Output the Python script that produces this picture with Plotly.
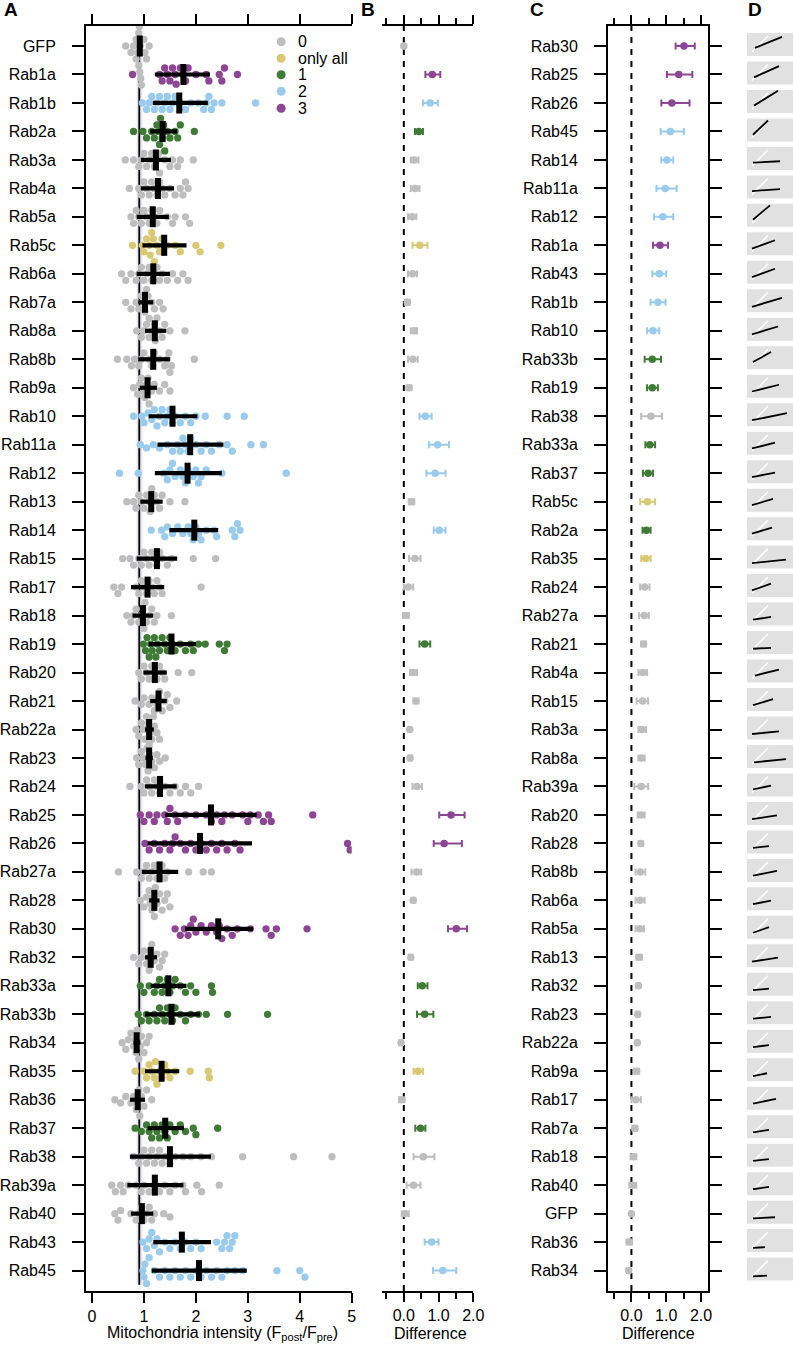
import numpy as np
import plotly.graph_objects as go

# ---------------- data ----------------
names = ["GFP", "Rab1a", "Rab1b", "Rab2a", "Rab3a", "Rab4a", "Rab5a", "Rab5c", "Rab6a", "Rab7a",
         "Rab8a", "Rab8b", "Rab9a", "Rab10", "Rab11a", "Rab12", "Rab13", "Rab14", "Rab15", "Rab17",
         "Rab18", "Rab19", "Rab20", "Rab21", "Rab22a", "Rab23", "Rab24", "Rab25", "Rab26", "Rab27a",
         "Rab28", "Rab30", "Rab32", "Rab33a", "Rab33b", "Rab34", "Rab35", "Rab36", "Rab37", "Rab38",
         "Rab39a", "Rab40", "Rab43", "Rab45"]
groups = ["0", "3", "2", "1", "0", "0", "0", "only all", "0", "0",
          "0", "0", "0", "2", "2", "2", "0", "2", "0", "0",
          "0", "1", "0", "0", "0", "0", "0", "3", "3", "0",
          "0", "3", "0", "1", "1", "0", "only all", "0", "1", "0",
          "0", "0", "2", "2"]
means = [0.92, 1.76, 1.68, 1.36, 1.23, 1.27, 1.17, 1.39, 1.18, 1.02,
         1.21, 1.18, 1.07, 1.55, 1.89, 1.84, 1.14, 1.97, 1.25, 1.07,
         0.98, 1.53, 1.21, 1.28, 1.10, 1.10, 1.31, 2.29, 2.08, 1.30,
         1.20, 2.43, 1.13, 1.47, 1.53, 0.86, 1.34, 0.88, 1.41, 1.50,
         1.21, 0.96, 1.73, 2.06]
sd_low = [0.87, 1.21, 1.17, 1.12, 0.94, 0.94, 0.86, 0.97, 0.86, 0.89,
          1.02, 0.89, 0.92, 1.09, 1.26, 1.21, 0.93, 1.49, 0.86, 0.75,
          0.78, 1.09, 0.99, 1.12, 1.02, 1.03, 1.02, 1.41, 1.07, 0.96,
          1.10, 1.79, 1.02, 1.13, 1.02, 0.80, 1.02, 0.73, 1.07, 0.73,
          0.68, 0.75, 1.18, 1.15]
sd_high = [0.97, 2.27, 2.23, 1.64, 1.52, 1.58, 1.48, 1.82, 1.50, 1.18,
           1.43, 1.50, 1.25, 2.03, 2.53, 2.50, 1.36, 2.43, 1.64, 1.39,
           1.18, 2.00, 1.44, 1.44, 1.19, 1.17, 1.63, 3.17, 3.08, 1.66,
           1.30, 3.10, 1.25, 1.82, 2.08, 0.93, 1.68, 1.02, 1.77, 2.29,
           1.76, 1.18, 2.29, 2.98]
cell_values = [
    [0.65, 0.75, 0.8, 0.85, 0.85, 0.88, 0.9, 0.9, 0.91, 0.92, 0.92, 0.93, 0.94, 0.95, 0.95, 0.97, 1.0, 1.02, 1.05, 1.1],
    [0.78, 1.3, 1.35, 1.4, 1.45, 1.5, 1.55, 1.6, 1.62, 1.7, 1.75, 1.8, 1.85, 2.0, 2.2, 2.25, 2.45, 2.5, 2.55, 2.8],
    [0.97, 1.05, 1.1, 1.15, 1.2, 1.25, 1.3, 1.35, 1.4, 1.45, 1.5, 1.55, 1.6, 1.7, 1.8, 1.9, 2.05, 2.15, 2.2, 2.25, 2.3, 2.35, 2.5, 3.15],
    [0.8, 0.98, 1.05, 1.15, 1.2, 1.25, 1.28, 1.3, 1.32, 1.35, 1.38, 1.4, 1.45, 1.5, 1.6, 1.65, 1.7, 1.97],
    [0.64, 0.8, 0.9, 0.95, 1.0, 1.05, 1.1, 1.15, 1.2, 1.25, 1.28, 1.3, 1.4, 1.5, 1.55, 1.65, 1.7, 1.95],
    [0.72, 0.9, 0.95, 1.0, 1.05, 1.1, 1.15, 1.2, 1.25, 1.3, 1.35, 1.4, 1.5, 1.6, 1.7, 1.75, 1.8, 1.85],
    [0.75, 0.8, 0.85, 0.9, 0.95, 1.0, 1.05, 1.1, 1.15, 1.2, 1.25, 1.3, 1.45, 1.55, 1.6, 1.8, 1.88],
    [0.78, 0.97, 1.0, 1.05, 1.1, 1.12, 1.15, 1.18, 1.2, 1.25, 1.3, 1.35, 1.45, 1.6, 1.7, 2.0, 2.08, 2.48],
    [0.57, 0.65, 0.75, 0.85, 0.9, 0.95, 1.0, 1.05, 1.1, 1.15, 1.2, 1.25, 1.3, 1.35, 1.45, 1.55, 1.65, 1.75, 1.85],
    [0.65, 0.75, 0.85, 0.9, 0.95, 1.0, 1.02, 1.05, 1.08, 1.1, 1.15, 1.2, 1.3, 1.37],
    [0.86, 0.95, 1.0, 1.05, 1.1, 1.15, 1.2, 1.22, 1.25, 1.3, 1.35, 1.4, 1.5, 1.79],
    [0.49, 0.67, 0.76, 0.82, 0.9, 0.95, 1.0, 1.1, 1.15, 1.2, 1.3, 1.4, 1.45, 1.48, 1.5, 1.53, 1.97],
    [0.8, 0.88, 0.92, 0.95, 1.0, 1.02, 1.05, 1.08, 1.1, 1.15, 1.2, 1.3, 1.4, 1.5],
    [0.8, 0.96, 1.0, 1.08, 1.15, 1.2, 1.25, 1.3, 1.35, 1.4, 1.45, 1.5, 1.55, 1.6, 1.7, 1.8, 1.9, 2.0, 2.18, 2.6, 2.93],
    [0.93, 1.05, 1.18, 1.3, 1.45, 1.55, 1.65, 1.7, 1.75, 1.8, 1.85, 1.9, 2.0, 2.1, 2.2, 2.3, 2.45, 2.6, 2.7, 3.06, 3.3],
    [0.53, 0.89, 1.38, 1.45, 1.5, 1.55, 1.6, 1.7, 1.75, 1.8, 1.85, 1.95, 2.0, 2.05, 2.1, 2.2, 2.5, 3.74],
    [0.67, 0.8, 0.85, 0.9, 0.95, 1.0, 1.05, 1.1, 1.12, 1.15, 1.2, 1.25, 1.3, 1.35, 1.5, 1.79],
    [1.14, 1.34, 1.4, 1.45, 1.55, 1.65, 1.75, 1.85, 1.9, 1.95, 2.0, 2.05, 2.1, 2.2, 2.35, 2.4, 2.7, 2.75, 2.8, 2.85],
    [0.59, 0.73, 0.8, 0.9, 0.95, 1.0, 1.05, 1.1, 1.15, 1.2, 1.25, 1.3, 1.35, 1.45, 1.53, 1.95, 2.38],
    [0.42, 0.5, 0.57, 0.85, 0.9, 0.95, 1.0, 1.05, 1.1, 1.15, 1.2, 1.25, 1.3, 1.35, 2.1],
    [0.67, 0.75, 0.8, 0.85, 0.9, 0.95, 0.98, 1.0, 1.02, 1.05, 1.1, 1.15, 1.2, 1.25, 1.53],
    [0.99, 1.03, 1.06, 1.1, 1.13, 1.16, 1.2, 1.23, 1.26, 1.3, 1.35, 1.4, 1.45, 1.5, 1.55, 1.6, 1.7, 1.8, 1.9, 1.95, 2.05, 2.18, 2.45, 2.55, 2.6],
    [0.9, 0.95, 1.0, 1.05, 1.1, 1.15, 1.2, 1.25, 1.3, 1.35, 1.4, 1.66, 1.92],
    [0.83, 0.95, 1.0, 1.1, 1.15, 1.2, 1.25, 1.28, 1.3, 1.35, 1.4, 1.45, 1.5, 1.63],
    [0.85, 0.9, 0.95, 1.0, 1.02, 1.05, 1.08, 1.1, 1.12, 1.15, 1.18, 1.2, 1.25, 1.3],
    [0.86, 0.9, 0.95, 1.0, 1.03, 1.06, 1.08, 1.1, 1.12, 1.15, 1.2, 1.25, 1.3, 1.41],
    [0.73, 0.95, 1.0, 1.05, 1.1, 1.15, 1.2, 1.25, 1.3, 1.4, 1.5, 1.6, 1.7, 1.8, 1.9, 2.05],
    [0.93, 1.0, 1.1, 1.2, 1.25, 1.4, 1.45, 1.5, 1.6, 1.65, 1.8, 2.0, 2.2, 2.3, 2.4, 2.5, 2.55, 2.7, 2.9, 3.0, 3.05, 3.2, 3.3, 3.4, 3.45, 4.25],
    [1.02, 1.1, 1.2, 1.3, 1.4, 1.5, 1.55, 1.6, 1.7, 1.8, 1.9, 2.0, 2.1, 2.2, 2.3, 2.4, 2.5, 2.6, 2.75, 2.85, 4.92, 4.97],
    [0.51, 0.86, 0.95, 1.0, 1.05, 1.1, 1.15, 1.2, 1.25, 1.3, 1.35, 1.4, 1.45, 1.86, 2.14, 2.3],
    [0.93, 1.0, 1.05, 1.1, 1.12, 1.15, 1.18, 1.2, 1.22, 1.25, 1.3, 1.35, 1.4, 1.45, 1.5],
    [1.6, 1.7, 1.78, 1.85, 1.9, 1.95, 2.0, 2.1, 2.2, 2.3, 2.4, 2.45, 2.5, 2.6, 2.7, 2.8, 3.05, 3.35, 3.45, 3.55, 4.14],
    [0.8, 0.9, 0.95, 1.0, 1.05, 1.08, 1.1, 1.13, 1.15, 1.2, 1.25, 1.3, 1.35, 1.4],
    [0.93, 1.0, 1.1, 1.2, 1.25, 1.3, 1.35, 1.4, 1.45, 1.5, 1.55, 1.6, 1.7, 1.8, 1.9, 2.0, 2.3, 2.32],
    [0.89, 0.95, 1.05, 1.1, 1.2, 1.25, 1.3, 1.35, 1.4, 1.45, 1.5, 1.55, 1.6, 1.7, 1.8, 1.9, 2.05, 2.2, 2.61, 3.38],
    [0.58, 0.65, 0.7, 0.75, 0.8, 0.83, 0.85, 0.87, 0.9, 0.93, 0.95, 1.0, 1.05, 1.1],
    [0.83, 1.0, 1.05, 1.1, 1.15, 1.2, 1.22, 1.25, 1.3, 1.35, 1.4, 1.45, 1.5, 1.6, 1.89, 2.24, 2.26],
    [0.44, 0.55, 0.65, 0.75, 0.8, 0.85, 0.88, 0.9, 0.92, 0.95, 1.0, 1.05, 1.15],
    [0.83, 0.95, 1.05, 1.1, 1.15, 1.2, 1.25, 1.3, 1.35, 1.4, 1.45, 1.5, 1.6, 1.7, 1.8, 1.95, 2.0, 2.42],
    [0.8, 0.9, 0.95, 1.0, 1.05, 1.1, 1.15, 1.2, 1.25, 1.3, 1.35, 1.4, 1.5, 1.6, 1.75, 1.9, 2.1, 2.3, 2.9, 3.88, 4.62],
    [0.38, 0.45, 0.55, 0.6, 0.7, 0.85, 0.95, 1.0, 1.1, 1.2, 1.3, 1.4, 1.5, 1.6, 1.75, 1.8, 2.02, 2.11, 2.45],
    [0.44, 0.5, 0.55, 0.75, 0.85, 0.9, 0.95, 1.0, 1.05, 1.1, 1.15, 1.2, 1.38, 1.5],
    [0.98, 1.05, 1.1, 1.15, 1.2, 1.25, 1.3, 1.4, 1.5, 1.6, 1.7, 1.8, 1.9, 2.0, 2.1, 2.4, 2.5, 2.55, 2.6, 2.65, 2.7, 2.75],
    [0.98, 1.0, 1.02, 1.05, 1.1, 1.2, 1.3, 1.4, 1.5, 1.6, 1.7, 1.8, 1.9, 2.0, 2.1, 2.2, 2.3, 2.4, 2.5, 2.6, 2.75, 2.9, 3.56, 4.0, 4.1],
]
gfp_ref = 0.91
gfp_band = [0.86, 0.97]

diff = [0.00, 0.82, 0.76, 0.43, 0.30, 0.33, 0.24, 0.46, 0.25, 0.10,
        0.29, 0.26, 0.15, 0.62, 0.97, 0.90, 0.22, 1.02, 0.32, 0.13,
        0.06, 0.60, 0.28, 0.35, 0.17, 0.18, 0.38, 1.36, 1.16, 0.37,
        0.27, 1.51, 0.20, 0.53, 0.60, -0.08, 0.41, -0.06, 0.48, 0.56,
        0.28, 0.04, 0.80, 1.12]
ci_low = [0.00, 0.62, 0.55, 0.32, 0.20, 0.20, 0.12, 0.25, 0.12, 0.03,
          0.20, 0.12, 0.08, 0.45, 0.72, 0.65, 0.14, 0.86, 0.15, 0.00,
          -0.02, 0.45, 0.18, 0.28, 0.13, 0.13, 0.25, 1.02, 0.86, 0.22,
          0.22, 1.27, 0.15, 0.40, 0.38, -0.13, 0.28, -0.14, 0.33, 0.28,
          0.08, -0.06, 0.60, 0.84]
ci_high = [0.00, 1.05, 0.98, 0.55, 0.42, 0.45, 0.36, 0.68, 0.38, 0.17,
           0.38, 0.40, 0.22, 0.80, 1.30, 1.20, 0.30, 1.20, 0.48, 0.27,
           0.14, 0.76, 0.38, 0.42, 0.21, 0.23, 0.52, 1.75, 1.67, 0.50,
           0.33, 1.82, 0.25, 0.68, 0.85, -0.03, 0.55, 0.02, 0.62, 0.88,
           0.48, 0.14, 1.00, 1.51]

c_order = ["Rab30", "Rab25", "Rab26", "Rab45", "Rab14", "Rab11a", "Rab12", "Rab1a", "Rab43", "Rab1b",
           "Rab10", "Rab33b", "Rab19", "Rab38", "Rab33a", "Rab37", "Rab5c", "Rab2a", "Rab35", "Rab24",
           "Rab27a", "Rab21", "Rab4a", "Rab15", "Rab3a", "Rab8a", "Rab39a", "Rab20", "Rab28", "Rab8b",
           "Rab6a", "Rab5a", "Rab13", "Rab32", "Rab23", "Rab22a", "Rab9a", "Rab17", "Rab7a", "Rab18",
           "Rab40", "GFP", "Rab36", "Rab34"]

# thumbnail regression fits (C order), in thumbnail units (pre on x, post on y)
fit_slope = [0.41, 0.45, 0.62, 0.95, 0.05, 0.07, 0.85, 0.36, 0.36, 0.30,
             0.30, 0.55, 0.25, 0.20, 0.25, 0.20, 0.30, 0.30, 0.10, 0.35,
             0.15, 0.05, 0.25, 0.30, 0.10, 0.10, 0.20, 0.15, 0.10, 0.20,
             0.20, 0.35, 0.15, 0.10, 0.10, 0.12, 0.20, 0.20, 0.15, 0.12,
             0.15, 0.05, 0.05, 0.05]
fit_icpt = [0.24, 0.20, 0.15, 0.05, 0.35, 0.35, 0.10, 0.25, 0.25, 0.20,
            0.25, 0.20, 0.25, 0.25, 0.25, 0.25, 0.25, 0.25, 0.25, 0.25,
            0.25, 0.25, 0.25, 0.20, 0.25, 0.25, 0.30, 0.25, 0.25, 0.25,
            0.25, 0.20, 0.25, 0.25, 0.25, 0.25, 0.20, 0.25, 0.25, 0.25,
            0.25, 0.25, 0.20, 0.20]
fit_xmin = [0.40, 0.35, 0.35, 0.30, 0.30, 0.25, 0.30, 0.25, 0.25, 0.25,
            0.25, 0.30, 0.25, 0.25, 0.25, 0.25, 0.25, 0.25, 0.25, 0.25,
            0.30, 0.30, 0.40, 0.30, 0.25, 0.35, 0.30, 0.25, 0.30, 0.30,
            0.30, 0.30, 0.25, 0.30, 0.30, 0.30, 0.30, 0.30, 0.30, 0.30,
            0.30, 0.30, 0.30, 0.30]
fit_xmax = [1.75, 1.60, 1.55, 1.05, 1.65, 1.65, 1.15, 1.40, 1.40, 1.75,
            1.55, 1.20, 1.60, 2.00, 1.40, 1.40, 1.30, 1.25, 1.95, 1.20,
            1.20, 1.20, 1.60, 1.30, 1.60, 1.95, 1.20, 1.50, 1.10, 1.50,
            1.20, 1.10, 1.55, 1.10, 1.20, 1.10, 1.00, 1.45, 1.10, 1.10,
            1.10, 1.40, 0.90, 1.00]

group_order = ["0", "only all", "1", "2", "3"]
group_color = {"0": "#BEBEBE", "only all": "#D9C975", "1": "#3F7B37",
               "2": "#9ACBEC", "3": "#8D4694"}

# ---------------- layout constants ----------------
W, H = 793, 1349
FONT = "Liberation Sans, Arial, Helvetica, sans-serif"
n = len(names)
top_px, bot_px = 26, 1291
row0_px, rowspace = 46.0, (1270.6 - 46.0) / 43
y_range = [(bot_px - row0_px) / rowspace, (top_px - row0_px) / rowspace]
y_dom = [1 - bot_px / H, 1 - top_px / H]

A_px = (86, 351.7); A_range = [(86 - 92) / 51.9, 5.0]
B_px = (382.3, 473.3); B_range = [-0.62, 2.0]
C_px = (608, 708); C_range = [-0.673, 2.2]
D_px = (747, 793); D_range = [0, 46 / 20.0]

def dom(p):
    return [p[0] / W, p[1] / W]

px_per_x = (A_px[1] - A_px[0]) / (A_range[1] - A_range[0])
px_per_xc = (C_px[1] - C_px[0]) / (C_range[1] - C_range[0])


def swarm(vals, diam=7.2):
    vals = np.asarray(vals, float)
    order = np.argsort(vals, kind="stable")
    placed = []
    offs = np.zeros(len(vals))
    step = diam * 0.45
    cands = [0.0]
    for k in range(1, 60):
        cands += [k * step, -k * step]
    for i in order:
        xp = vals[i] * px_per_x
        for c in cands:
            ok = True
            for (qx, qy) in placed:
                if (xp - qx) ** 2 + (c - qy) ** 2 < (diam * 0.88) ** 2:
                    ok = False
                    break
            if ok:
                break
        placed.append((xp, c))
        offs[i] = c / rowspace
    return offs


fig = go.Figure()

# --- panel A: individual cells, grouped by colour category
for g in group_order:
    xs, ys = [], []
    for i in range(n):
        if groups[i] != g:
            continue
        offs = swarm(cell_values[i])
        xs += list(cell_values[i])
        ys += list(i + offs)
    fig.add_trace(go.Scatter(x=xs, y=ys, mode="markers", xaxis="x", yaxis="y",
                             marker=dict(size=7.3, color=group_color[g], line=dict(width=0)),
                             showlegend=False, hoverinfo="skip"))

# mean +/- SD crosses
idx = list(range(n))
fig.add_trace(go.Scatter(
    x=means, y=idx, mode="markers", xaxis="x", yaxis="y",
    error_x=dict(type="data", symmetric=False,
                 array=[h - m for h, m in zip(sd_high, means)],
                 arrayminus=[m - l for m, l in zip(means, sd_low)],
                 color="black", thickness=4.2, width=0),
    marker=dict(symbol="line-ns", size=15, color="black", line=dict(width=6, color="black")),
    showlegend=False, hoverinfo="skip"))

# category dots next to the row labels (A and C)
dotA_x = A_range[0] - (86 - 66) / px_per_x
dotC_x = C_range[0] - (608 - 588) / px_per_xc
fig.add_trace(go.Scatter(x=[dotA_x] * n, y=idx, mode="markers", xaxis="x", yaxis="y",
                         marker=dict(size=11, color=[group_color[g] for g in groups]),
                         cliponaxis=False, showlegend=False, hoverinfo="skip"))
fig.add_trace(go.Scatter(x=[dotC_x] * n, y=idx, mode="markers", xaxis="x3", yaxis="y3",
                         marker=dict(size=11, color=[group_color[groups[names.index(nm)]] for nm in c_order]),
                         cliponaxis=False, showlegend=False, hoverinfo="skip"))

# legend (manual, compact)
leg_x = (281 - 92) / 51.9
leg_y_px = [41.7, 58.3, 74.8, 91.3, 108.2]
leg_y = [(p - row0_px) / rowspace for p in leg_y_px]
fig.add_trace(go.Scatter(x=[leg_x] * 5, y=leg_y, mode="markers", xaxis="x", yaxis="y",
                         marker=dict(size=9, color=[group_color[g] for g in group_order]),
                         showlegend=False, hoverinfo="skip", cliponaxis=False))
annotations = []
for g, yy in zip(group_order, leg_y):
    annotations.append(dict(x=(296 - 92) / 51.9, y=yy, xref="x", yref="y", text=g,
                            showarrow=False, xanchor="left", yanchor="middle",
                            font=dict(size=16, color="black", family=FONT)))

# --- panels B and C: differences
def add_diff(xax, yax, order_names):
    for g in group_order:
        xs, ys, ep, em = [], [], [], []
        for r, nm in enumerate(order_names):
            i = names.index(nm)
            if groups[i] != g:
                continue
            xs.append(diff[i]); ys.append(r)
            ep.append(ci_high[i] - diff[i]); em.append(diff[i] - ci_low[i])
        fig.add_trace(go.Scatter(
            x=xs, y=ys, mode="markers", xaxis=xax, yaxis=yax,
            error_x=dict(type="data", symmetric=False, array=ep, arrayminus=em,
                         color=group_color[g], thickness=2, width=3.5),
            marker=dict(size=7.5, color=group_color[g]),
            showlegend=False, hoverinfo="skip"))

add_diff("x2", "y2", names)
add_diff("x3", "y3", c_order)

# --- panel D: thumbnails
hh_px = 11.5
shapes = []
for r, nm in enumerate(c_order):
    yc = r - 1.5 / rowspace
    shapes.append(dict(type="rect", xref="x4", yref="y4", x0=D_range[0], x1=D_range[1] + 0.5,
                       y0=yc - hh_px / rowspace, y1=yc + hh_px / rowspace,
                       fillcolor="#E1E1E1", line=dict(width=0), layer="below"))
ux, uy, fx, fy = [], [], [], []
for r, nm in enumerate(c_order):
    yc = r - 1.5 / rowspace
    base = yc + hh_px / rowspace
    scale = 20.0 / rowspace
    ux += [0.25, 0.25 + 2 * hh_px / 20.0 - 0.35, None]
    uy += [base - 0.2 * scale, base - (2 * hh_px / 20.0 - 0.15) * scale, None]
    x0, x1 = fit_xmin[r], fit_xmax[r]
    fx += [x0, x1, None]
    fy += [base - (fit_icpt[r] + fit_slope[r] * x0) * scale,
           base - (fit_icpt[r] + fit_slope[r] * x1) * scale, None]
fig.add_trace(go.Scatter(x=ux, y=uy, mode="lines", xaxis="x4", yaxis="y4",
                         line=dict(color="white", width=1.5), showlegend=False, hoverinfo="skip"))
fig.add_trace(go.Scatter(x=fx, y=fy, mode="lines", xaxis="x4", yaxis="y4",
                         line=dict(color="black", width=1.8), showlegend=False, hoverinfo="skip"))

# reference line and band in A
shapes.append(dict(type="rect", xref="x", yref="y", x0=gfp_band[0], x1=gfp_band[1],
                   y0=0, y1=n - 0.5, fillcolor="#E4E5EE", line=dict(width=0), layer="below"))
shapes.append(dict(type="line", xref="x", yref="y", x0=gfp_ref, x1=gfp_ref,
                   y0=0, y1=n - 0.5, line=dict(color="black", width=1.8), layer="below"))
for xr, yr in (("x2", "y2 domain"), ("x3", "y3 domain")):
    shapes.append(dict(type="line", xref=xr, yref=yr, x0=0, x1=0, y0=0.0, y1=1.0,
                       line=dict(color="black", width=2, dash="6px,6px"), layer="below"))

axis_common = dict(showgrid=False, zeroline=False, linecolor="black", linewidth=2, automargin=False,
                   tickcolor="black", tickwidth=2, tickfont=dict(size=16, color="black", family=FONT))

fig.update_layout(
    width=W, height=H, margin=dict(l=0, r=0, t=0, b=0, autoexpand=False),
    paper_bgcolor="white", plot_bgcolor="rgba(0,0,0,0)",
    font=dict(family=FONT, size=16, color="black"),
    xaxis=dict(domain=dom(A_px), range=A_range, anchor="y", showline=True, mirror="ticks",
               ticks="outside", ticklen=10, tickvals=[0, 1, 2, 3, 4, 5], **axis_common),
    yaxis=dict(domain=y_dom, range=y_range, anchor="x", showline=True, ticks="outside",
               ticklen=12, tickvals=idx, ticktext=names, ticklabelstandoff=13, **axis_common),
    xaxis2=dict(domain=dom(B_px), range=B_range, anchor="y2", showline=True, mirror="ticks",
                ticks="outside", ticklen=9, tickvals=[0, 1, 2], ticktext=["0.0", "1.0", "2.0"],
                minor=dict(tickvals=[-0.5, 0.5, 1.5], ticklen=6, ticks="outside",
                           tickcolor="black", tickwidth=2),
                **axis_common),
    yaxis2=dict(domain=y_dom, range=y_range, anchor="x2", showline=False, showticklabels=False,
                ticks="", showgrid=False, zeroline=False, automargin=False),
    xaxis3=dict(domain=dom(C_px), range=C_range, anchor="y3", showline=True, mirror="ticks",
                ticks="outside", ticklen=9, tickvals=[0, 1, 2], ticktext=["0.0", "1.0", "2.0"],
                minor=dict(tickvals=[-0.5, 0.5, 1.5], ticklen=6, ticks="outside",
                           tickcolor="black", tickwidth=2),
                **axis_common),
    yaxis3=dict(domain=y_dom, range=y_range, anchor="x3", showline=True, mirror="ticks",
                ticks="outside", ticklen=12, tickvals=idx, ticktext=c_order,
                ticklabelstandoff=13, **axis_common),
    xaxis4=dict(domain=dom(D_px), range=D_range, anchor="y4", visible=False, automargin=False),
    yaxis4=dict(domain=y_dom, range=y_range, anchor="x4", visible=False, automargin=False),
    shapes=shapes,
    showlegend=False,
)

for txt, xc in (("Mitochondria intensity (F<sub>post</sub>/F<sub>pre</sub>)", 222),
                ("Difference", 430), ("Difference", 658)):
    annotations.append(dict(x=xc / W, y=1 - 1333 / H, xref="paper", yref="paper", text=txt,
                            showarrow=False, xanchor="center", yanchor="middle",
                            font=dict(size=16, color="black", family=FONT)))
for txt, xc in (("A", 11), ("B", 368), ("C", 537), ("D", 755)):
    annotations.append(dict(x=xc / W, y=1 - 10 / H, xref="paper", yref="paper", text=f"<b>{txt}</b>",
                            showarrow=False, xanchor="center", yanchor="middle",
                            font=dict(size=19, color="black", family=FONT)))
fig.update_layout(annotations=annotations)

fig.write_html("out.html", config={"displayModeBar": False, "staticPlot": True},
               post_script="document.body.style.margin='0';document.body.style.overflow='hidden';")
